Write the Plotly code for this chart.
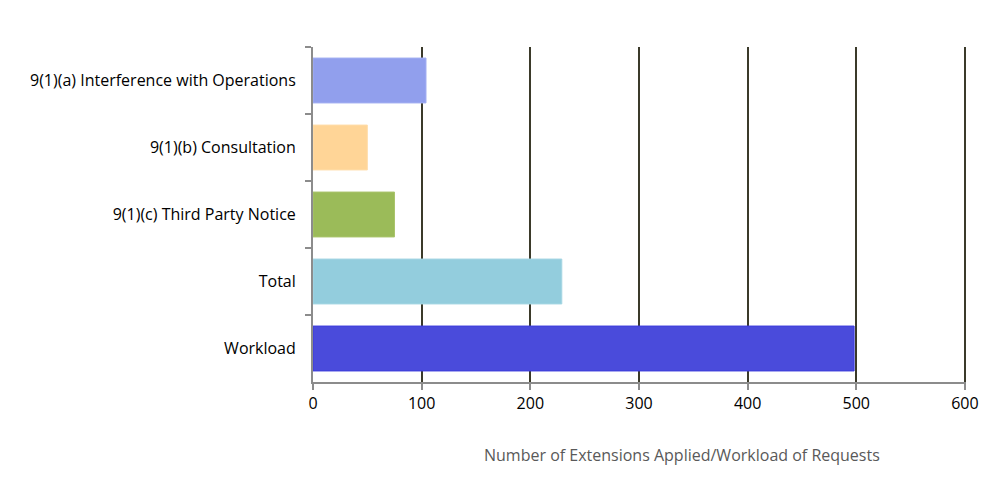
import plotly.graph_objects as go

categories = ["9(1)(a) Interference with Operations", "9(1)(b) Consultation",
              "9(1)(c) Third Party Notice", "Total", "Workload"]
values = [104, 50, 75, 229, 498]
colors = ["#919FED", "#FFD597", "#9BBB59", "#93CDDD", "#4A4BDB"]
line_colors = ["#A3AFF2", "#FFDDAA", "#A9C46C", "#A5D6E3", "#3C3CDC"]
x_ticks = [0, 100, 200, 300, 400, 500, 600]

L, R, T, B = 305, 42, 39, 114
W, H = 1000, 488

fig = go.Figure()
fig.add_trace(go.Bar(
    y=categories, x=values, orientation="h",
    marker=dict(color=colors, line=dict(color=line_colors, width=1)),
    width=0.67,
))

plot_w = W - L - R
plot_h = H - T - B

fig.update_layout(
    width=W, height=H,
    margin=dict(l=L, r=R, t=T, b=B, autoexpand=False),
    paper_bgcolor="white", plot_bgcolor="white",
    showlegend=False,
    font=dict(family="Open Sans, Liberation Sans, sans-serif", size=16, color="#000000"),
    xaxis=dict(
        range=[0, 601], tickvals=x_ticks, ticktext=[str(v) for v in x_ticks],
        showgrid=True, gridcolor="#3B3A2A", gridwidth=2,
        zeroline=False, showline=True, linecolor="#8C8C8C", linewidth=2,
        ticks="outside", ticklen=6, tickcolor="#8C8C8C", tickwidth=2,
        tickfont=dict(size=16), fixedrange=True,
    ),
    yaxis=dict(
        autorange="reversed", showgrid=False, zeroline=False,
        showline=True, linecolor="#8C8C8C", linewidth=2,
        ticks="outside", ticklen=6, tickcolor="#8C8C8C", tickwidth=2,
        tickson="boundaries", ticklabelstandoff=12,
        tickfont=dict(size=16),
    ),
    annotations=[dict(
        text="Number of Extensions Applied/Workload of Requests",
        x=(674 - L) / plot_w, xref="paper",
        y=(H - B - 447) / plot_h, yref="paper",
        xanchor="center", yanchor="middle", showarrow=False,
        font=dict(size=16, color="#595959"),
    )],
)

fig.write_html("out.html")
